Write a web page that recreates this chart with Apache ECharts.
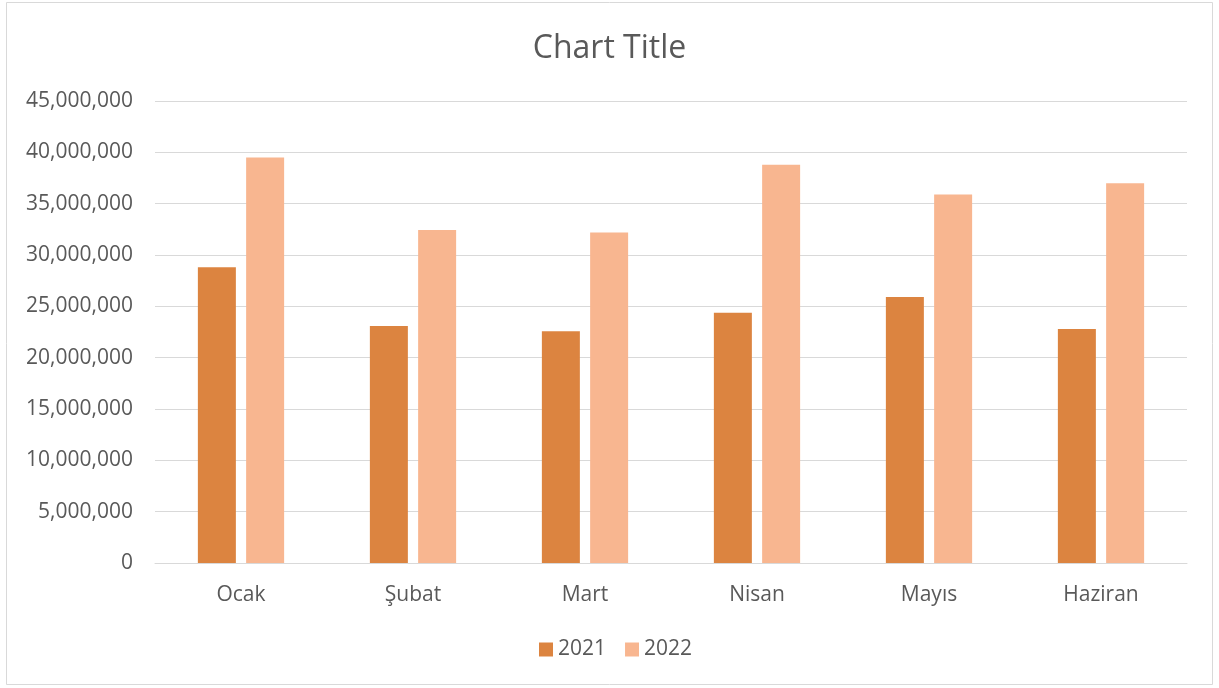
<!DOCTYPE html>
<html>
<head>
<meta charset="utf-8">
<script src="https://cdn.jsdelivr.net/npm/echarts@6/dist/echarts.min.js"></script>
<style>
  html, body { margin: 0; padding: 0; background: #fff; }
  #chart { width: 1219px; height: 688px; }
</style>
</head>
<body>
<div id="chart"></div>
<script>
// aylar ve seriler
const months = ['Ocak', 'Şubat', 'Mart', 'Nisan', 'Mayıs', 'Haziran']
const values2021 = [28800000, 23080000, 22570000, 24380000, 25900000, 22790000]
const values2022 = [39500000, 32430000, 32200000, 38800000, 35900000, 37000000]
const seriesNames = ['2021', '2022']

const textColor = '#595959'
const lineColor = '#d9d9d9'
const font = 'Open Sans'

const chart = echarts.init(document.getElementById('chart'))

const option = {
  animation: false,
  backgroundColor: '#fff',
  color: ['#dc8440', '#f8b690'],
  title: {
    text: 'Chart Title',
    left: 'center',
    top: 28,
    textStyle: { color: textColor, fontFamily: font, fontSize: 32, fontWeight: 'normal' }
  },
  legend: {
    data: seriesNames,
    bottom: 23,
    left: 534, // legend padding 5 ekleniyor
    icon: 'rect',
    itemWidth: 14,
    itemHeight: 14,
    itemGap: 19,
    textStyle: { color: textColor, fontFamily: font, fontSize: 21 }
  },
  grid: {
    left: 155,
    right: 32,
    top: 101,
    bottom: 125
  },
  xAxis: {
    type: 'category',
    data: months,
    axisTick: { show: false },
    axisLine: { lineStyle: { color: lineColor, width: 1 } },
    axisLabel: { color: textColor, fontFamily: font, fontSize: 21, margin: 22 }
  },
  yAxis: {
    type: 'value',
    min: 0,
    max: 45000000,
    interval: 5000000,
    axisLine: { show: false },
    axisTick: { show: false },
    splitLine: { lineStyle: { color: lineColor, width: 1 } },
    axisLabel: {
      color: textColor,
      fontFamily: font,
      fontSize: 21,
      margin: 22,
      formatter: (v) => v.toLocaleString('en-US')
    }
  },
  series: [
    {
      name: seriesNames[0],
      type: 'bar',
      data: values2021,
      barWidth: 38,
      barGap: '27%'
    },
    {
      name: seriesNames[1],
      type: 'bar',
      data: values2022,
      barWidth: 38,
      barGap: '27%'
    }
  ],
  graphic: [
    {
      type: 'rect',
      shape: { x: 6.5, y: 2.5, width: 1206, height: 682 },
      style: { fill: 'none', stroke: lineColor, lineWidth: 1 },
      silent: true
    }
  ]
}

chart.setOption(option)
</script>
</body>
</html>
